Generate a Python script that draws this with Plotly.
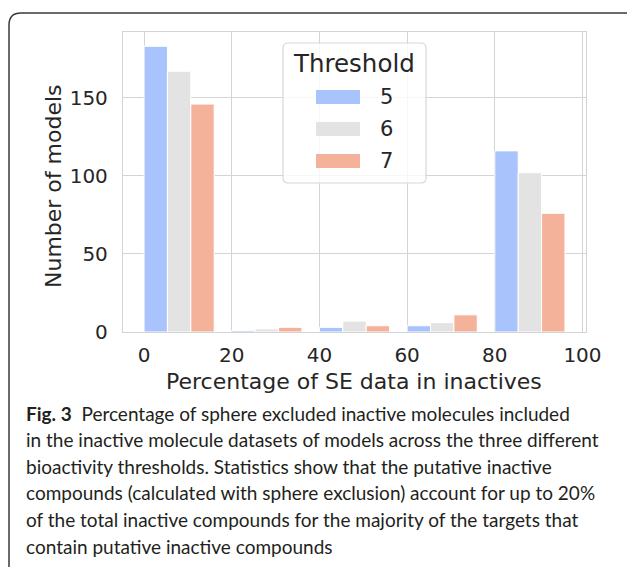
import plotly.graph_objects as go

# ---- data ----
bin_starts = [0, 20, 40, 60, 80]
threshold_names = ["5", "6", "7"]
counts_5 = [183, 1, 3, 4, 116]
counts_6 = [167, 2, 7, 6, 102]
counts_7 = [146, 3, 4, 11, 76]
x_ticks = [0, 20, 40, 60, 80, 100]
y_ticks = [0, 50, 100, 150]
x_title = "Percentage of SE data in inactives"
y_title = "Number of models"
legend_title = "Threshold"
caption_lines = [
    "<b>Fig. 3</b>\u00a0\u00a0Percentage of sphere excluded inactive molecules included",
    "in the inactive molecule datasets of models across the three different",
    "bioactivity thresholds. Statistics show that the putative inactive",
    "compounds (calculated with sphere exclusion) account for up to 20%",
    "of the total inactive compounds for the majority of the targets that",
    "contain putative inactive compounds",
]

# ---- style / layout ----
W, H = 627, 567
L, R, T, B = 123, 586, 32, 332
colors = ["#a9c3fc", "#e3e3e3", "#f5b29b"]
bin_w = 16.0
bar_w = bin_w / 3
TXT = "#262626"
FONT = "DejaVu Sans"


def px(x):
    return (x - L) / (R - L)


def py(y):
    return (B - y) / (B - T)


def rrect(x0, y0, x1, y1, r):
    pts = [
        ("M", (x0 + r, y0)),
        ("L", (x1 - r, y0)),
        ("Q", (x1, y0), (x1, y0 + r)),
        ("L", (x1, y1 - r)),
        ("Q", (x1, y1), (x1 - r, y1)),
        ("L", (x0 + r, y1)),
        ("Q", (x0, y1), (x0, y1 - r)),
        ("L", (x0, y0 + r)),
        ("Q", (x0, y0), (x0 + r, y0)),
    ]
    s = ""
    for p in pts:
        cmd = p[0]
        coords = " ".join(f"{px(a):.5f},{py(b):.5f}" for a, b in p[1:])
        s += f"{cmd} {coords} "
    return s + "Z"


fig = go.Figure()
for name, vals, col, k in zip(threshold_names, [counts_5, counts_6, counts_7], colors, range(3)):
    fig.add_trace(go.Bar(
        x=bin_starts, y=vals, name=name, width=bar_w, offset=k * bar_w,
        marker=dict(color=col, line=dict(color="white", width=1)),
        showlegend=False,
    ))

axis_common = dict(
    showgrid=True, gridcolor="#d4d4d4", gridwidth=1.3,
    showline=True, linecolor="#d4d4d4", linewidth=1.3, mirror=True,
    zeroline=False, ticks="", tickfont=dict(family=FONT, size=20, color=TXT),
)
fig.update_layout(
    width=W, height=H, barmode="overlay",
    margin=dict(l=L, r=W - R, t=T, b=H - B, pad=0),
    paper_bgcolor="white", plot_bgcolor="white",
    xaxis=dict(range=[-4.8, 100.8], tickvals=x_ticks, ticklabelstandoff=5, **axis_common),
    yaxis=dict(range=[0, 192.15], tickvals=y_ticks, ticklabelstandoff=10, **axis_common),
)

shapes = []
annotations = []
# figure frame
shapes.append(dict(type="path", xref="paper", yref="paper", path=rrect(9, 13, 640, 580, 12),
                   line=dict(color="#3a3a3a", width=1.5), fillcolor="rgba(0,0,0,0)", layer="below"))
# legend box
shapes.append(dict(type="path", xref="paper", yref="paper", path=rrect(283, 43, 426, 183, 5),
                   line=dict(color="#d8d8d8", width=1.2), fillcolor="rgba(255,255,255,0.8)", layer="above"))
annotations.append(dict(xref="paper", yref="paper", x=px(354), y=py(63), text=legend_title,
                        showarrow=False, xanchor="center", yanchor="middle",
                        font=dict(family=FONT, size=24.5, color=TXT)))
for name, col, yc in zip(threshold_names, colors, [97, 129, 161]):
    shapes.append(dict(type="rect", xref="paper", yref="paper",
                       x0=px(316), x1=px(360), y0=py(yc - 7), y1=py(yc + 7),
                       fillcolor=col, line=dict(width=0), layer="above"))
    annotations.append(dict(xref="paper", yref="paper", x=px(378), y=py(yc), text=name,
                            showarrow=False, xanchor="left", yanchor="middle",
                            font=dict(family=FONT, size=21, color=TXT)))
# axis titles
annotations.append(dict(xref="paper", yref="paper", x=px(354), y=py(381), text=x_title,
                        showarrow=False, xanchor="center", yanchor="middle",
                        font=dict(family=FONT, size=22, color=TXT)))
annotations.append(dict(xref="paper", yref="paper", x=px(53), y=py(186), text=y_title,
                        showarrow=False, xanchor="center", yanchor="middle", textangle=-90,
                        font=dict(family=FONT, size=22, color=TXT)))
# caption
for i, line in enumerate(caption_lines):
    annotations.append(dict(xref="paper", yref="paper", x=px(24), y=py(413 + i * 26.6), text=line,
                            showarrow=False, xanchor="left", yanchor="middle",
                            font=dict(family="Lato", size=19, color="#231f20")))

fig.update_layout(shapes=shapes, annotations=annotations)
fig.write_html("out.html", config={"displayModeBar": False},
               post_script="document.body.style.margin='0';")
